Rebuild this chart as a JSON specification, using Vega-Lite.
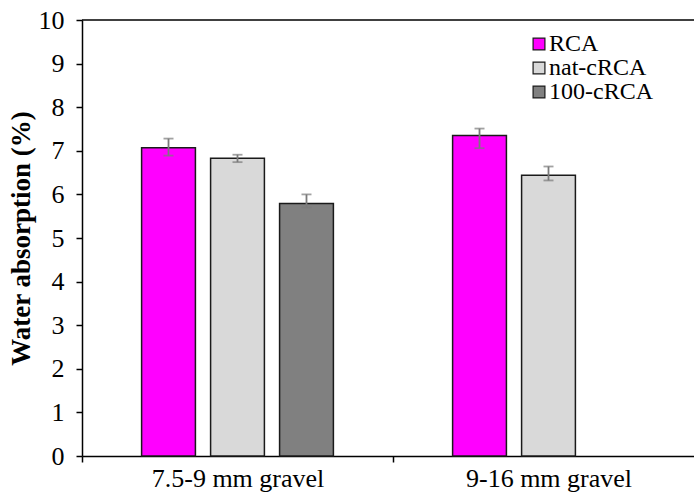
{
  "$schema": "https://vega.github.io/schema/vega-lite/v6.json",
  "autosize": "none",
  "width": 612,
  "height": 436,
  "padding": {"left": 82, "top": 20, "right": 0, "bottom": 43},
  "background": "white",
  "config": {
    "view": {"stroke": null},
    "font": "Liberation Serif"
  },
  "layer": [
    {
      "data": {
        "values": [
          {"group": "7.5-9 mm gravel", "series": "RCA", "value": 7.07, "low": 6.89, "high": 7.28},
          {"group": "7.5-9 mm gravel", "series": "nat-cRCA", "value": 6.83, "low": 6.74, "high": 6.91},
          {"group": "7.5-9 mm gravel", "series": "100-cRCA", "value": 5.79, "low": 5.70, "high": 6.00},
          {"group": "9-16 mm gravel", "series": "RCA", "value": 7.35, "low": 7.06, "high": 7.51},
          {"group": "9-16 mm gravel", "series": "nat-cRCA", "value": 6.44, "low": 6.32, "high": 6.64}
        ]
      },
      "encoding": {
        "x": {
          "field": "group",
          "type": "nominal",
          "sort": ["7.5-9 mm gravel", "9-16 mm gravel"],
          "scale": {"domain": ["7.5-9 mm gravel", "9-16 mm gravel"], "range": [0, 622], "paddingInner": 0, "paddingOuter": 0},
          "axis": {
            "title": null,
            "labelAngle": 0,
            "labelFont": "Liberation Serif",
            "labelFontSize": 26,
            "labelColor": "black",
            "labelPadding": 3,
            "labelLimit": 400,
            "tickBand": "extent",
            "tickSize": 6,
            "tickColor": "black",
            "domainColor": "black",
            "domainWidth": 1.5,
            "tickWidth": 1.5
          }
        },
        "xOffset": {
          "field": "series",
          "type": "nominal",
          "sort": ["RCA", "nat-cRCA", "100-cRCA"],
          "scale": {"domain": ["RCA", "nat-cRCA", "100-cRCA"], "paddingInner": 0.22, "paddingOuter": 0.864}
        }
      },
      "layer": [
        {
          "mark": {"type": "bar", "stroke": "#1a1a1a", "strokeWidth": 1.5},
          "encoding": {
            "y": {
              "field": "value",
              "type": "quantitative",
              "scale": {"domain": [0, 10], "nice": false},
              "axis": {
                "title": "Water absorption (%)",
                "titleFont": "Liberation Serif",
                "titleFontSize": 27,
                "titleFontWeight": "bold",
                "titleColor": "black",
                "titlePadding": 3,
                "values": [0, 0.5, 1, 1.5, 2, 2.5, 3, 3.5, 4, 4.5, 5, 5.5, 6, 6.5, 7, 7.5, 8, 8.5, 9, 9.5, 10],
                "labelExpr": "datum.value % 1 === 0 ? datum.label : ''",
                "labelFont": "Liberation Serif",
                "labelFontSize": 26,
                "labelColor": "black",
                "labelPadding": 12,
                "grid": false,
                "tickSize": 6,
                "tickColor": "black",
                "tickWidth": 1.5,
                "domainColor": "black",
                "domainWidth": 1.5
              }
            },
            "color": {
              "field": "series",
              "type": "nominal",
              "scale": {"domain": ["RCA", "nat-cRCA", "100-cRCA"], "range": ["#FF00FF", "#D9D9D9", "#808080"]},
              "legend": {
                "title": null,
                "orient": "none",
                "legendX": 445,
                "legendY": 12,
                "symbolType": "square",
                "symbolSize": 140,
                "symbolStrokeColor": "#1a1a1a",
                "symbolStrokeWidth": 1.2,
                "symbolOpacity": 1,
                "labelFont": "Liberation Serif",
                "labelFontSize": 24,
                "labelColor": "black",
                "labelOffset": -2,
                "rowPadding": -3,
                "labelLimit": 300
              }
            }
          }
        },
        {
          "mark": {"type": "rule", "color": "#7a7a7a", "strokeWidth": 1.8},
          "encoding": {
            "y": {"field": "low", "type": "quantitative"},
            "y2": {"field": "high"}
          }
        },
        {
          "mark": {"type": "tick", "color": "#7a7a7a", "thickness": 1.8, "size": 10},
          "encoding": {"y": {"field": "low", "type": "quantitative"}}
        },
        {
          "mark": {"type": "tick", "color": "#7a7a7a", "thickness": 1.8, "size": 10},
          "encoding": {"y": {"field": "high", "type": "quantitative"}}
        }
      ]
    },
    {
      "data": {"values": [{}]},
      "mark": {"type": "rule", "color": "black", "strokeWidth": 1.5},
      "encoding": {"y": {"datum": 10}}
    }
  ]
}
